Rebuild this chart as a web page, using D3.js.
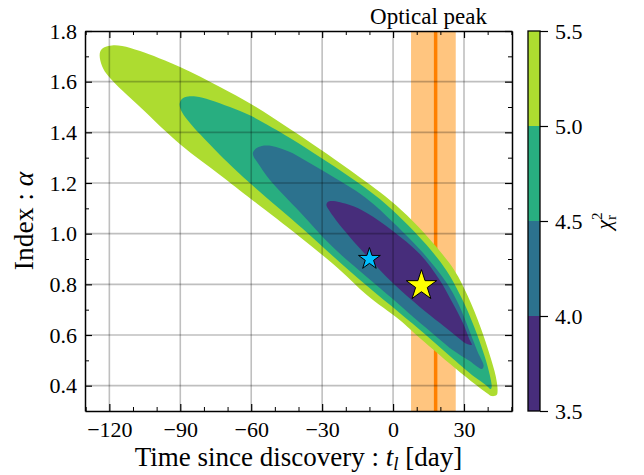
<!DOCTYPE html>
<html>
<head>
<meta charset="utf-8">
<script src="https://cdn.jsdelivr.net/npm/d3@7"></script>
<style>
  body { margin: 0; background: #fff; }
  svg { display: block; font-family: "Liberation Serif", "Times New Roman", serif; }
</style>
</head>
<body>
<div id="chart"></div>
<script>
// tick values
const xTicks = [-120, -90, -60, -30, 0, 30];
const yTicks = [0.4, 0.6, 0.8, 1.0, 1.2, 1.4, 1.6, 1.8];
const levels = [3.5, 4.0, 4.5, 5.0, 5.5];

// contour outlines, [t_l (day), alpha]
const contour55 = [
  [-124.1, 1.705], [-123.5, 1.725], [-121.8, 1.737], [-118.9, 1.743], [-114.6, 1.741],
  [-107.0, 1.721], [-90.1, 1.658], [-73.2, 1.579], [-60.1, 1.512], [-43.6, 1.413],
  [-31.0, 1.334], [-18.3, 1.251], [-1.4, 1.133], [8.3, 1.050], [18.0, 0.951],
  [26.1, 0.853], [31.6, 0.754], [37.1, 0.628], [40.9, 0.521], [43.4, 0.438],
  [44.2, 0.383], [43.8, 0.363], [41.7, 0.359], [39.6, 0.371], [28.2, 0.454],
  [11.3, 0.588], [2.8, 0.659], [-11.1, 0.758], [-22.5, 0.857], [-39.4, 0.987],
  [-60.1, 1.137], [-73.2, 1.232], [-89.7, 1.350], [-107.0, 1.500], [-120.1, 1.618],
  [-123.1, 1.662]
];
const contour50 = [
  [-90.3, 1.512], [-89.3, 1.532], [-86.7, 1.541], [-83.4, 1.541], [-77.4, 1.528],
  [-69.0, 1.500], [-60.1, 1.465], [-43.6, 1.378], [-31.0, 1.303], [-18.3, 1.224],
  [-5.6, 1.137], [4.1, 1.054], [14.2, 0.955], [22.7, 0.853], [29.0, 0.746],
  [34.5, 0.628], [38.7, 0.517], [40.9, 0.442], [41.7, 0.395], [41.3, 0.387],
  [39.2, 0.403], [34.5, 0.434], [24.0, 0.517], [13.4, 0.604], [2.8, 0.687],
  [-11.1, 0.794], [-25.5, 0.912], [-38.2, 1.019], [-47.9, 1.097], [-60.1, 1.196],
  [-73.2, 1.311], [-81.7, 1.393], [-85.9, 1.437], [-89.3, 1.480]
];
const contour45 = [
  [-59.3, 1.318], [-58.0, 1.336], [-55.5, 1.346], [-51.3, 1.346], [-43.6, 1.322],
  [-38.2, 1.295], [-28.4, 1.241], [-11.5, 1.141], [0.3, 1.042], [13.8, 0.912],
  [22.7, 0.805], [27.8, 0.719], [32.0, 0.624], [35.8, 0.533], [38.3, 0.478],
  [37.5, 0.466], [32.4, 0.497], [25.2, 0.541], [15.5, 0.616], [10.0, 0.659],
  [-0.1, 0.742], [-11.1, 0.829], [-25.5, 0.947], [-39.4, 1.086], [-52.1, 1.212],
  [-57.2, 1.279], [-58.9, 1.303]
];
const contour40 = [
  [-28.2, 1.113], [-27.6, 1.125], [-25.9, 1.129], [-18.3, 1.113], [-11.1, 1.082],
  [-0.1, 1.011], [11.3, 0.920], [19.7, 0.817], [25.2, 0.726], [29.5, 0.648],
  [32.4, 0.580], [33.3, 0.561], [31.1, 0.565], [26.1, 0.600], [19.7, 0.648],
  [11.3, 0.711], [-0.1, 0.805], [-11.1, 0.912], [-18.3, 0.987], [-24.2, 1.054],
  [-27.2, 1.094]
];

const bestFit = [12.0, 0.795];
const altFit = [-10.0, 0.900];
const peakDay = 18.0;
const peakWindow = [7.6, 26.5];

const W = 644, H = 475;
const plot = {left: 85, right: 512, top: 31, bottom: 411};
const cbar = {left: 528, right: 540};

const svg = d3.select("#chart").append("svg")
    .attr("width", W)
    .attr("height", H);

const x = d3.scaleLinear().domain([-130.3, 50.3]).range([plot.left, plot.right]);
const y = d3.scaleLinear().domain([0.3, 1.8]).range([plot.bottom, plot.top]);

const layerColor = levels.slice(0, -1).map((l, i) => d3.interpolateViridis((i + 0.5) / (levels.length - 1)));

svg.append("clipPath").attr("id", "clip")
  .append("rect")
    .attr("x", plot.left).attr("y", plot.top)
    .attr("width", plot.right - plot.left)
    .attr("height", plot.bottom - plot.top);

const g = svg.append("g").attr("clip-path", "url(#clip)");

// optical peak window and line
g.append("rect")
    .attr("x", x(peakWindow[0]))
    .attr("y", plot.top)
    .attr("width", x(peakWindow[1]) - x(peakWindow[0]))
    .attr("height", plot.bottom - plot.top)
    .attr("fill", "#ff8c00")
    .attr("fill-opacity", 0.5);

g.append("line")
    .attr("x1", x(peakDay)).attr("x2", x(peakDay))
    .attr("y1", plot.top).attr("y2", plot.bottom)
    .attr("stroke", "#ff8000")
    .attr("stroke-width", 3.5);

// filled contours, outermost first
const outline = d3.line()
    .x(d => x(d[0]))
    .y(d => y(d[1]))
    .curve(d3.curveCatmullRomClosed.alpha(0.5));

[contour55, contour50, contour45, contour40].forEach((c, i) => {
    g.append("path")
        .attr("d", outline(c))
        .attr("fill", layerColor[3 - i]);
});

// grid
g.selectAll(".vgrid").data(xTicks).join("line")
    .attr("x1", d => x(d)).attr("x2", d => x(d))
    .attr("y1", plot.top).attr("y2", plot.bottom)
    .attr("stroke", "#000").attr("stroke-opacity", 0.25).attr("stroke-width", 1.6);

g.selectAll(".hgrid").data(yTicks).join("line")
    .attr("x1", plot.left).attr("x2", plot.right)
    .attr("y1", d => y(d)).attr("y2", d => y(d))
    .attr("stroke", "#000").attr("stroke-opacity", 0.25).attr("stroke-width", 1.6);

// best-fit stars
const star = d3.symbol().type(d3.symbolStar);
g.append("path")
    .attr("d", star.size(148)())
    .attr("transform", `translate(${x(altFit[0])},${y(altFit[1])})`)
    .attr("fill", "#00bfff")
    .attr("stroke", "#000")
    .attr("stroke-width", 1);

g.append("path")
    .attr("d", star.size(287)())
    .attr("transform", `translate(${x(bestFit[0])},${y(bestFit[1])})`)
    .attr("fill", "#ffff00")
    .attr("stroke", "#000")
    .attr("stroke-width", 1);

// axes: inward ticks on all four sides
const xMinor = d3.range(-130, 51, 10).filter(v => !xTicks.includes(v));
const yMinor = d3.range(5, 18, 2).map(v => v / 10);
const fmt = d3.format(".1f");

function styleAxis(sel, fs) {
    sel.selectAll("text")
        .attr("font-family", "Liberation Serif, Times New Roman, serif")
        .attr("font-size", fs)
        .attr("fill", "#000");
    sel.selectAll(".tick line").attr("stroke", "#000").attr("stroke-width", 1.2);
    sel.select(".domain").attr("stroke", "#000").attr("stroke-width", 1.5);
}

const axes = [
    [d3.axisBottom, x, `translate(0,${plot.bottom})`, true],
    [d3.axisTop, x, `translate(0,${plot.top})`, false],
    [d3.axisLeft, y, `translate(${plot.left},0)`, true],
    [d3.axisRight, y, `translate(${plot.right},0)`, false]
];

axes.forEach(([axisFn, scale, tr, labels]) => {
    const isX = scale === x;
    const minorAxis = axisFn(scale)
        .tickValues(isX ? xMinor : yMinor)
        .tickSize(-4).tickSizeOuter(0).tickFormat("");
    svg.append("g").attr("transform", tr).call(minorAxis)
        .call(s => s.select(".domain").remove())
        .call(s => s.selectAll(".tick line").attr("stroke", "#000").attr("stroke-width", 1));

    const majorAxis = axisFn(scale)
        .tickValues(isX ? xTicks : yTicks)
        .tickSize(-7).tickSizeOuter(0)
        .tickPadding(isX ? 10 : 8)
        .tickFormat(labels ? (isX ? d3.format("d") : fmt) : "");
    svg.append("g").attr("transform", tr).call(majorAxis).call(styleAxis, 22);
});

// colour bar
const cy = d3.scaleLinear().domain([levels[0], levels[levels.length - 1]]).range([plot.bottom, plot.top]);

svg.append("g").selectAll("rect")
    .data(levels.slice(0, -1))
    .join("rect")
    .attr("x", cbar.left)
    .attr("y", (d, i) => cy(levels[i + 1]))
    .attr("width", cbar.right - cbar.left)
    .attr("height", (d, i) => cy(d) - cy(levels[i + 1]))
    .attr("fill", (d, i) => layerColor[i]);

svg.append("rect")
    .attr("x", cbar.left).attr("y", plot.top)
    .attr("width", cbar.right - cbar.left)
    .attr("height", plot.bottom - plot.top)
    .attr("fill", "none")
    .attr("stroke", "#000")
    .attr("stroke-width", 1.3);

svg.append("g")
    .attr("transform", `translate(${cbar.right},0)`)
    .call(d3.axisRight(cy).tickValues(levels).tickSize(8).tickSizeOuter(0).tickPadding(7).tickFormat(fmt))
    .call(styleAxis, 22)
    .call(s => s.select(".domain").remove());

const cbLabel = svg.append("text")
    .attr("transform", `translate(611,221) rotate(-90)`)
    .attr("text-anchor", "middle")
    .attr("font-size", 22);
cbLabel.append("tspan").attr("font-style", "italic").text("χ");
cbLabel.append("tspan").attr("font-size", 15).attr("dy", -9).text("2");
cbLabel.append("tspan").attr("font-size", 15).attr("dx", -7.5).attr("dy", 14).text("r");

// axis labels
const xLabel = svg.append("text")
    .attr("x", (plot.left + plot.right) / 2)
    .attr("y", 466)
    .attr("text-anchor", "middle")
    .attr("font-size", 27);
xLabel.append("tspan").text("Time since discovery : ");
xLabel.append("tspan").attr("font-style", "italic").text("t");
xLabel.append("tspan").attr("font-style", "italic").attr("font-size", 19).attr("dy", 4).text("l");
xLabel.append("tspan").attr("dy", -4).text(" [day]");

const yLabel = svg.append("text")
    .attr("transform", `translate(33,${(plot.top + plot.bottom) / 2}) rotate(-90)`)
    .attr("text-anchor", "middle")
    .attr("font-size", 27.5);
yLabel.append("tspan").text("Index : ");
yLabel.append("tspan").attr("font-style", "italic").text("α");

svg.append("text")
    .attr("x", x(15))
    .attr("y", 24)
    .attr("text-anchor", "middle")
    .attr("font-size", 23)
    .text("Optical peak");
</script>
</body>
</html>
